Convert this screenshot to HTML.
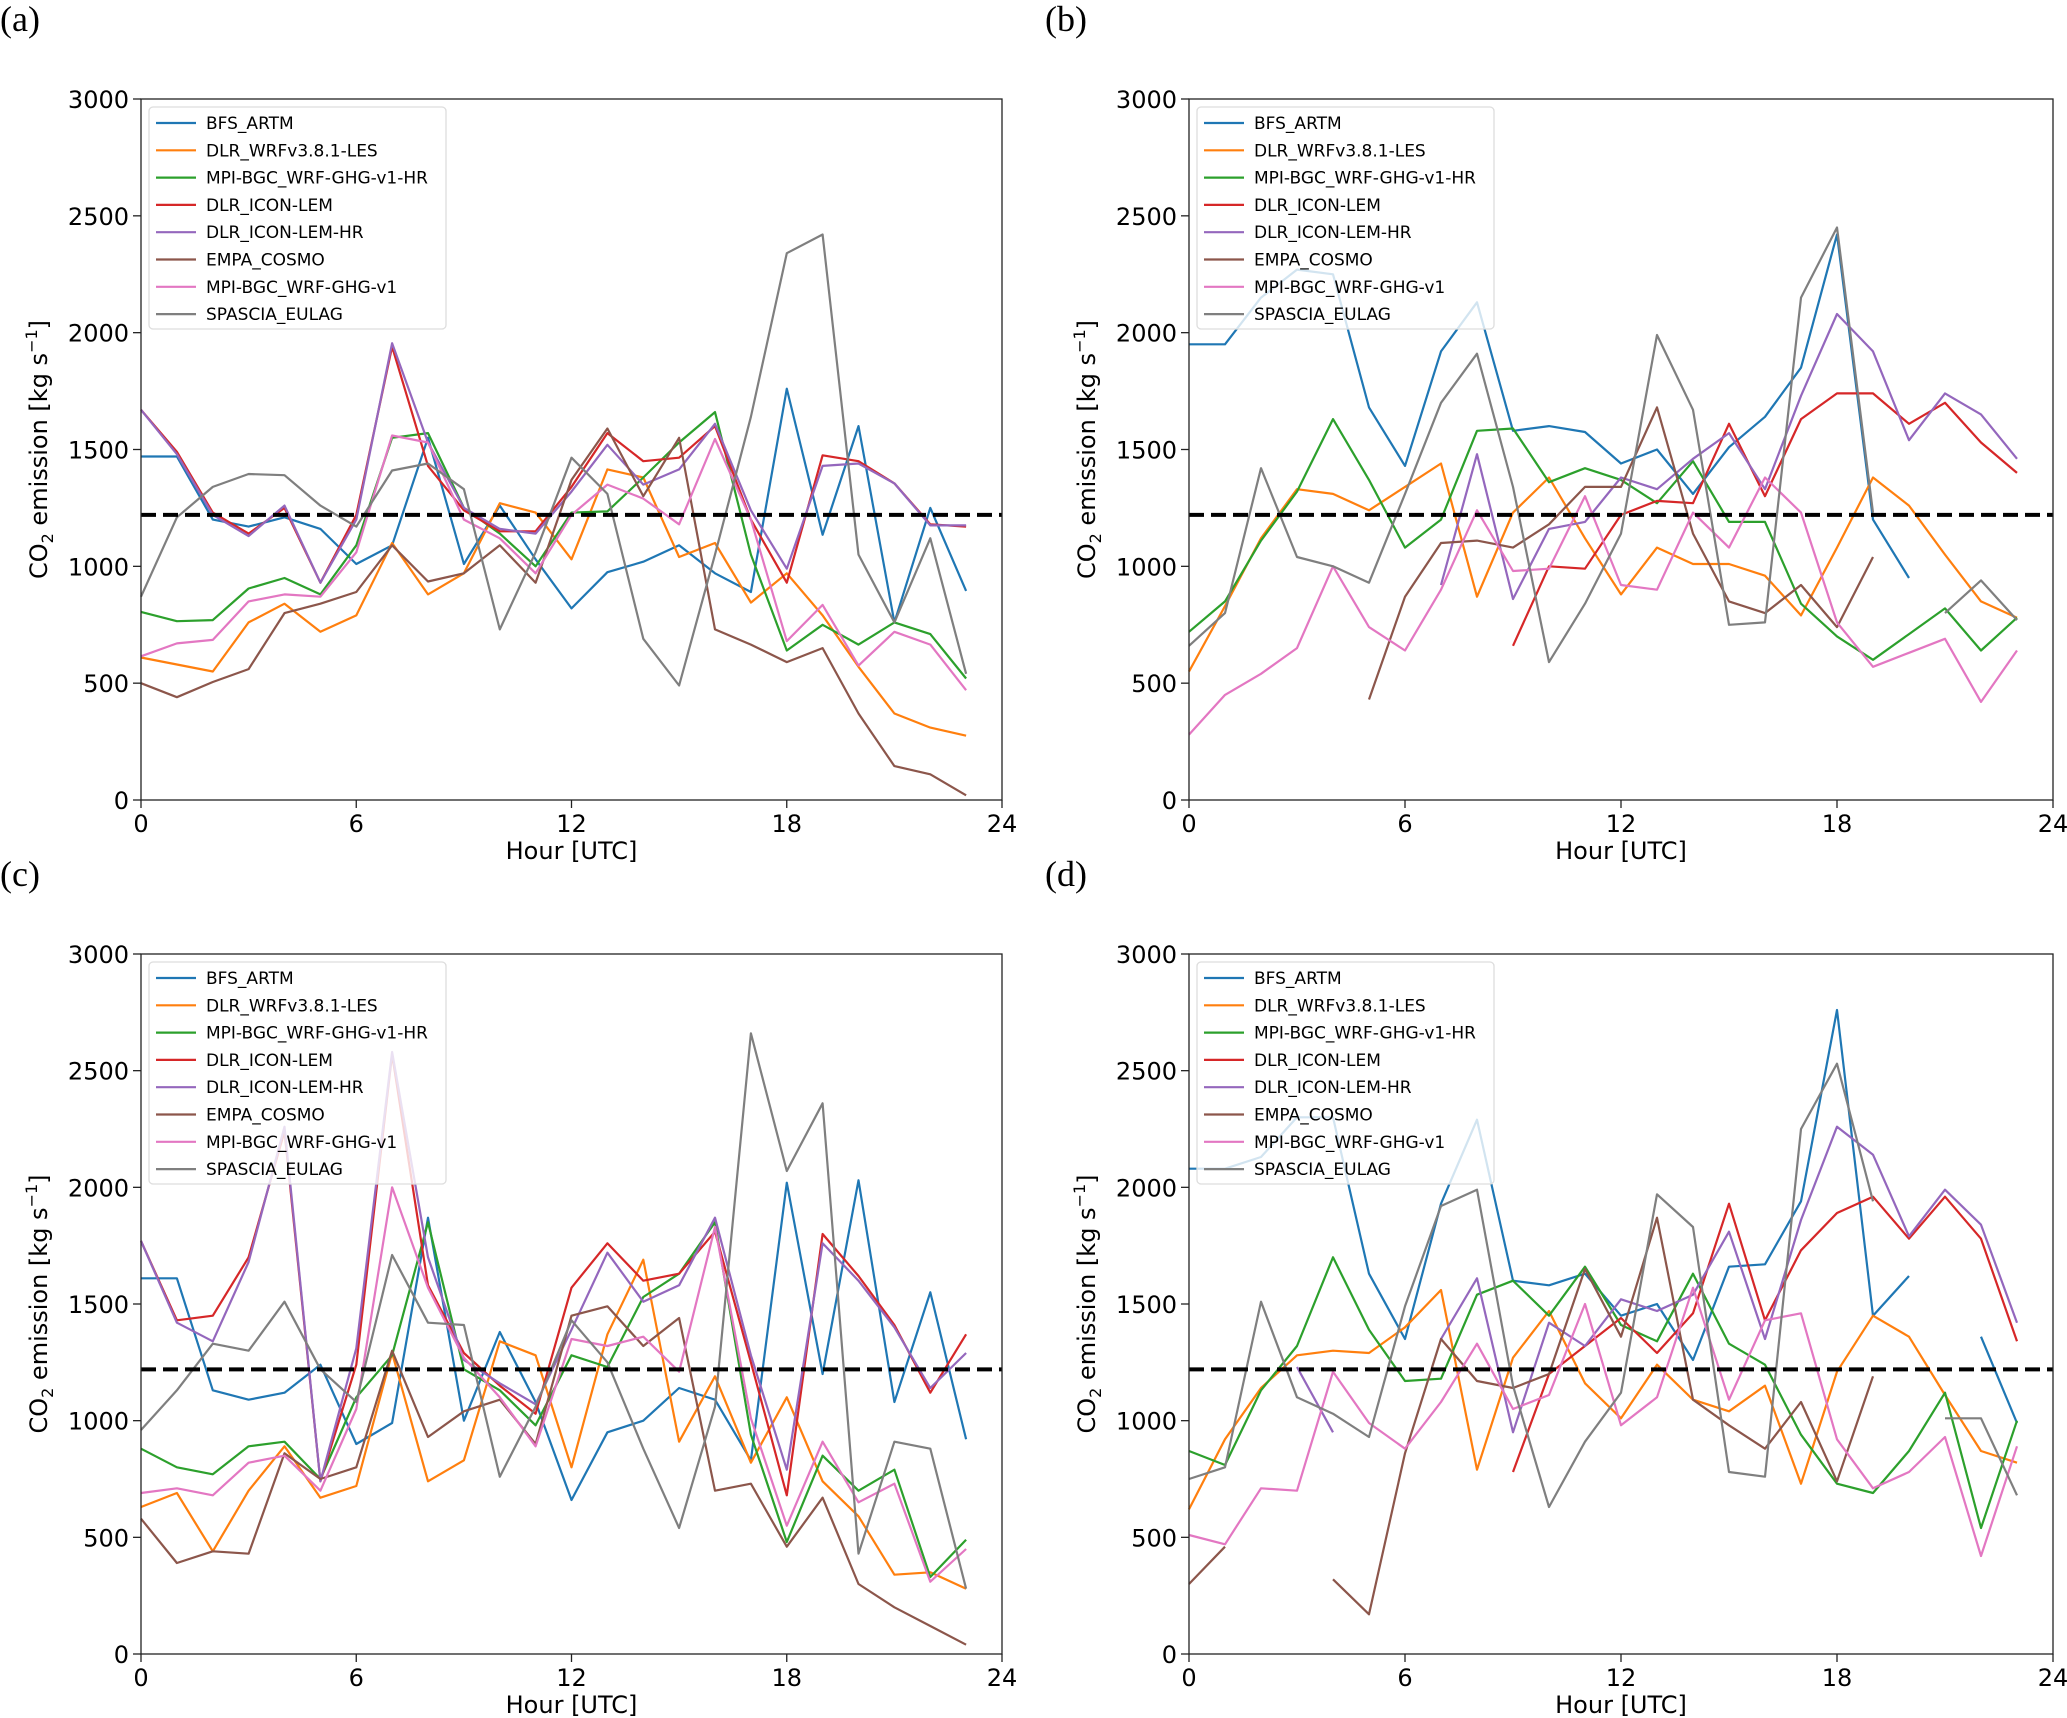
<!DOCTYPE html>
<html><head><meta charset="utf-8"><style>
html,body{margin:0;padding:0;background:#fff;}
svg{display:block;font-family:"DejaVu Sans","Liberation Sans",sans-serif;}
</style></head><body>
<svg id="fig" width="2067" height="1718" viewBox="0 0 2067 1718" xmlns="http://www.w3.org/2000/svg"></svg>
<script>
const hours=[...Array(24).keys()];
const seriesNames=["BFS_ARTM","DLR_WRFv3.8.1-LES","MPI-BGC_WRF-GHG-v1-HR","DLR_ICON-LEM","DLR_ICON-LEM-HR","EMPA_COSMO","MPI-BGC_WRF-GHG-v1","SPASCIA_EULAG"];
const seriesColors=["#1f77b4","#ff7f0e","#2ca02c","#d62728","#9467bd","#8c564b","#e377c2","#7f7f7f"];
const xTicks=[0,6,12,18,24];
const yTicks=[0,500,1000,1500,2000,2500,3000];
const refLine=1220;
const N=null;
const panelA=[
[1470,1470,1200,1170,1210,1160,1010,1090,1550,1010,1260,1030,820,975,1020,1090,970,890,1760,1135,1600,760,1250,895],
[610,580,550,760,840,720,790,1100,880,970,1270,1230,1030,1415,1380,1040,1100,845,970,790,570,370,310,275],
[805,765,770,905,950,880,1090,1550,1570,1250,1140,1000,1230,1235,1380,1530,1660,1050,640,750,665,760,710,520],
[1670,1490,1230,1140,1250,930,1220,1940,1430,1240,1150,1150,1340,1570,1450,1465,1600,1200,930,1475,1450,1355,1180,1170],
[1670,1480,1220,1130,1260,930,1200,1955,1530,1250,1160,1140,1320,1520,1350,1415,1610,1240,990,1430,1440,1355,1175,1175],
[500,440,505,560,800,840,890,1090,935,970,1090,930,1370,1590,1300,1550,730,665,590,650,370,145,110,20],
[615,670,685,850,880,870,1060,1560,1530,1200,1120,970,1220,1350,1290,1180,1545,1200,680,835,575,720,665,470],
[870,1210,1340,1395,1390,1260,1170,1410,1440,1330,730,1060,1465,1310,690,490,1050,1640,2340,2420,1050,760,1120,540]];
const panelB=[
[1950,1950,2150,2270,2250,1680,1430,1920,2130,1580,1600,1575,1440,1500,1310,1510,1640,1850,2420,1200,950,N,N,N],
[550,830,1120,1330,1310,1240,1340,1440,870,1230,1380,1120,880,1080,1010,1010,960,790,1080,1380,1260,1050,850,780],
[720,850,1110,1320,1630,1370,1080,1200,1580,1590,1360,1420,1370,1270,1450,1190,1190,840,700,600,710,820,640,780],
[N,N,N,N,N,N,N,N,N,660,1000,990,1220,1280,1270,1610,1300,1630,1740,1740,1610,1700,1530,1400],
[N,N,N,N,N,N,N,920,1480,860,1160,1190,1380,1330,1460,1570,1330,1730,2080,1920,1540,1740,1650,1460],
[N,N,N,N,N,430,870,1100,1110,1080,1180,1340,1340,1680,1140,850,800,920,740,1040,N,N,N,N],
[280,450,540,650,1000,740,640,900,1240,980,990,1300,920,900,1230,1080,1380,1230,760,570,630,690,420,640],
[660,800,1420,1040,1000,930,1310,1700,1910,1340,590,840,1140,1990,1670,750,760,2150,2450,1230,N,800,940,770]];
const panelC=[
[1610,1610,1130,1090,1120,1240,900,990,1870,1000,1380,1080,660,950,1000,1140,1090,830,2020,1200,2030,1080,1550,920],
[630,690,440,700,890,670,720,1290,740,830,1340,1280,800,1370,1690,910,1190,820,1100,740,590,340,350,280],
[880,800,770,890,910,750,1100,1280,1850,1220,1130,980,1280,1230,1530,1630,1850,940,480,850,700,790,330,490],
[1770,1430,1450,1700,2240,740,1240,2570,1580,1290,1150,1030,1570,1760,1600,1630,1810,1250,680,1800,1620,1410,1120,1370],
[1770,1420,1340,1680,2260,740,1310,2580,1700,1260,1160,1070,1390,1720,1510,1580,1870,1280,790,1760,1600,1400,1140,1290],
[580,390,440,430,860,750,800,1300,930,1040,1090,900,1450,1490,1320,1440,700,730,460,670,300,200,120,40],
[690,710,680,820,850,700,1050,2000,1570,1270,1100,890,1350,1320,1360,1210,1830,1010,550,910,650,730,310,450],
[960,1130,1330,1300,1510,1220,1080,1710,1420,1410,760,1060,1430,1250,880,540,1060,2660,2070,2360,430,910,880,280]];
const panelD=[
[2080,2080,2130,2300,2300,1630,1350,1930,2290,1600,1580,1630,1450,1500,1260,1660,1670,1940,2760,1450,1620,N,1360,990],
[620,920,1140,1280,1300,1290,1400,1560,790,1270,1470,1160,1010,1240,1090,1040,1150,730,1210,1450,1360,1110,870,820],
[870,810,1130,1320,1700,1390,1170,1180,1540,1600,1450,1660,1410,1340,1630,1330,1240,940,730,690,870,1120,540,1000],
[N,N,N,N,N,N,N,N,N,780,1200,1320,1440,1290,1460,1930,1430,1730,1890,1960,1780,1960,1780,1340],
[N,N,N,1230,950,N,N,1350,1610,950,1420,1320,1520,1470,1540,1810,1350,1860,2260,2140,1790,1990,1840,1420],
[300,460,N,N,320,170,860,1350,1170,1140,1200,1650,1360,1870,1090,980,880,1080,740,1190,N,N,N,N],
[510,470,710,700,1210,990,880,1080,1330,1050,1110,1500,980,1100,1570,1090,1430,1460,920,710,780,930,420,890],
[750,800,1510,1100,1030,930,1490,1920,1990,1150,630,910,1120,1970,1830,780,760,2250,2530,1940,N,1010,1010,680]];

const NS="http://www.w3.org/2000/svg";
const svg=document.getElementById('fig');
function mk(tag,attrs,parent){const e=document.createElementNS(NS,tag);for(const k in attrs)e.setAttribute(k,attrs[k]);(parent||svg).appendChild(e);return e;}

const panels=[
 {key:"a",data:panelA,L:141,R:1002,T:99,B:800,lx:0,ly:0},
 {key:"b",data:panelB,L:1189,R:2053,T:99,B:800,lx:1045,ly:0},
 {key:"c",data:panelC,L:141,R:1002,T:954,B:1654,lx:0,ly:855},
 {key:"d",data:panelD,L:1189,R:2053,T:954,B:1654,lx:1045,ly:855}];

panels.forEach(p=>{
  const g=mk('g',{});
  
  
  const xs=v=>p.L+(v/24)*(p.R-p.L);
  const ys=v=>p.B-(v/3000)*(p.B-p.T);
  const lab=mk('text',{x:p.lx,y:p.ly+31,'font-size':36,'font-family':'"Liberation Serif",serif',fill:'#000'},g);
  lab.textContent='('+p.key+')';
  
  
  p.data.forEach((vals,si)=>{
    let d='',pen=false;
    vals.forEach((v,h)=>{
      if(v===null){pen=false;return;}
      d+=(pen?'L':'M')+xs(hours[h]).toFixed(1)+' '+ys(v).toFixed(1)+' ';pen=true;
    });
    const path=mk('path',{d:d,fill:'none',stroke:seriesColors[si],'stroke-width':2.2,'stroke-linejoin':'round'},g);
    
    
  });
  const ref=mk('line',{x1:p.L,x2:p.R,y1:ys(refLine),y2:ys(refLine),stroke:'#000','stroke-width':4,'stroke-dasharray':'15 7'},g);
  
  
  const frame=mk('rect',{x:p.L,y:p.T,width:p.R-p.L,height:p.B-p.T,fill:'none',stroke:'#222','stroke-width':1.3},g);
  
  
  xTicks.forEach(t=>{
    mk('line',{x1:xs(t),x2:xs(t),y1:p.B,y2:p.B+8,stroke:'#222','stroke-width':1.3},g);
    const tx=mk('text',{x:xs(t),y:p.B+32,'font-size':24,'text-anchor':'middle',fill:'#000'},g);
    tx.textContent=t;
    
    
  });
  yTicks.forEach(t=>{
    mk('line',{x1:p.L-8,x2:p.L,y1:ys(t),y2:ys(t),stroke:'#222','stroke-width':1.3},g);
    const ty=mk('text',{x:p.L-12,y:ys(t)+9,'font-size':24,'text-anchor':'end',fill:'#000'},g);
    ty.textContent=t;
    
    
  });
  const xt=mk('text',{x:(p.L+p.R)/2,y:p.B+59,'font-size':24,'text-anchor':'middle',fill:'#000'},g);
  xt.textContent='Hour [UTC]';
  
  
  const cy=(p.T+p.B)/2, cx=p.L-94;
  const yt=mk('text',{x:cx,y:cy,'font-size':24,'text-anchor':'middle',fill:'#000',transform:`rotate(-90 ${cx} ${cy})`},g);
  yt.innerHTML='CO<tspan font-size="16" dy="6">2</tspan><tspan dy="-6"> emission [kg s</tspan><tspan font-size="16" dy="-10">−1</tspan><tspan dy="10">]</tspan>';
  
  
  const lg=mk('g',{},g);
  
  
  mk('rect',{x:p.L+8,y:p.T+8,width:297,height:222,rx:4,fill:'#fff','fill-opacity':0.8,stroke:'#ddd','stroke-width':1.3},lg);
  seriesNames.forEach((n,i)=>{
    const y=p.T+24+i*27.3;
    const e=mk('g',{},lg);
    
    
    mk('line',{x1:p.L+15,x2:p.L+55,y1:y,y2:y,stroke:seriesColors[i],'stroke-width':2.2},e);
    const t=mk('text',{x:p.L+65,y:y+6,'font-size':17,fill:'#000'},e);
    t.textContent=n;
  });
});
</script>
</body></html>
